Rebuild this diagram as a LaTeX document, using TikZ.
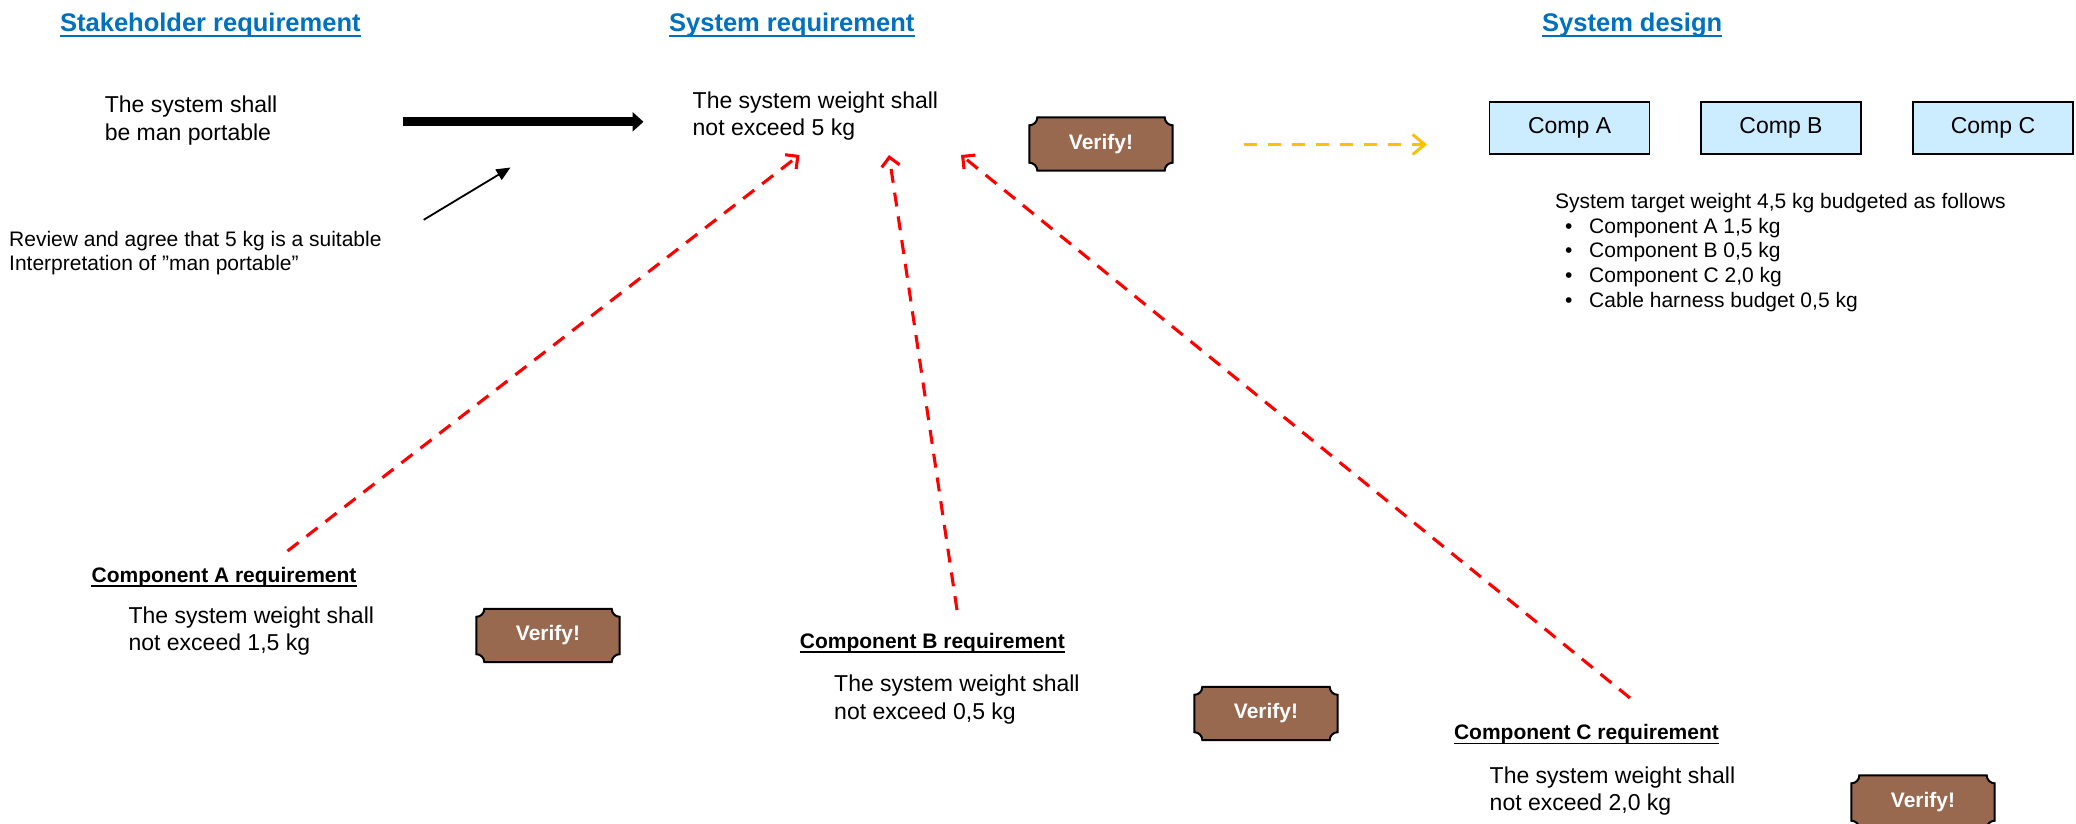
\documentclass[tikz,border=0pt]{standalone}
\usepackage{fontspec}
\setmainfont{Liberation Sans}
\usetikzlibrary{arrows.meta,backgrounds}

\definecolor{hdrblue}{HTML}{0070C0}
\definecolor{verifybrown}{HTML}{98684F}
\definecolor{compblue}{HTML}{CCECFF}
\definecolor{budgetgold}{HTML}{FFC000}

\tikzset{
  hdr/.style={inner sep=0pt, anchor=base west, text=hdrblue,
    font=\bfseries\fontsize{25.5}{30}\selectfont},
  hdrline/.style={draw=hdrblue, line width=2pt},
  subhdr/.style={inner sep=0pt, anchor=base west,
    font=\bfseries\fontsize{21}{25}\selectfont},
  subline/.style={draw=black, line width=1.8pt},
  body/.style={inner sep=0pt, anchor=north west, align=left,
    font=\fontsize{23}{27.5}\selectfont},
  note/.style={inner sep=0pt, anchor=north west, align=left,
    font=\fontsize{21}{24.5}\selectfont},
  compbox/.style={draw=black, line width=1.4pt, fill=compblue,
    minimum width=160pt, minimum height=52pt, inner sep=0pt,
    font=\fontsize{23}{27}\selectfont},
  verifybox/.style={minimum width=143pt, minimum height=53pt, inner sep=0pt,
    text=white, font=\bfseries\fontsize{21}{25}\selectfont},
  plaqueline/.style={draw=black, line width=2pt, fill=verifybrown},
  refine/.style={draw=black, line width=8.7pt,
    -{Triangle[length=11pt,width=19pt]}},
  agree/.style={draw=black, line width=1.8pt,
    -{Triangle[length=14pt,width=12pt]}},
  trace/.style={draw=red, line width=3.1pt, dash pattern=on 14pt off 10pt,
    -{Straight Barb[length=9pt,width=18pt]}},
  allocate/.style={draw=budgetgold, line width=3pt, dash pattern=on 13pt off 11pt,
    -{Straight Barb[length=12pt,width=20pt]}},
}

% plaque outline with concave corners, drawn behind a named node
\newcommand\plaque[1]{%
  \begin{scope}[on background layer]
    \path[plaqueline]
      ([xshift=8pt]#1.north west) -- ([xshift=-8pt]#1.north east)
      arc[start angle=180,end angle=270,radius=8pt]
      -- ([yshift=8pt]#1.south east)
      arc[start angle=90,end angle=180,radius=8pt]
      -- ([xshift=8pt]#1.south west)
      arc[start angle=0,end angle=90,radius=8pt]
      -- ([yshift=-8pt]#1.north west)
      arc[start angle=270,end angle=360,radius=8pt] -- cycle;
  \end{scope}}

\begin{document}
\begin{tikzpicture}[x=1pt,y=1pt]
\useasboundingbox (0,0) rectangle (2076,-823);
\begin{scope}[on background layer]
  \fill[white] (0,0) rectangle (2076,-823);
\end{scope}

% column headings
\node[hdr] (hsh) at (60,-31) {Stakeholder requirement};
\node[hdr] (hsr) at (669,-31) {System requirement};
\node[hdr] (hsd) at (1542,-31) {System design};
\foreach \h in {hsh,hsr,hsd}{
  \draw[hdrline] ([yshift=-4.5pt]\h.base west) -- ([yshift=-4.5pt]\h.base east);}

% stakeholder and system requirement
\node[body] (stk) at (104.6,-96) {The system shall\\be man portable};
\node[body] (sysreq) at (692.5,-91.5) {The system weight shall\\not exceed 5 kg};

\coordinate (refS) at (402.5,-121.8);
\coordinate (refE) at (643.5,-121.8);
\draw[refine] (refS) -- (refE);

\node[note] (review) at (9,-231)
  {Review and agree that 5 kg is a suitable\\Interpretation of ''man portable''};
\coordinate (agS) at (423.7,-219.8);
\coordinate (agE) at (510.5,-167.5);
\draw[agree] (agS) -- (agE);

% verification badges
\node[verifybox] (v0) at (1101,-144) {Verify!};
\node[verifybox] (vA) at (548,-635.5) {Verify!};
\node[verifybox] (vB) at (1266,-713.5) {Verify!};
\node[verifybox] (vC) at (1923,-802) {Verify!};
\foreach \v in {v0,vA,vB,vC}{\plaque{\v}}

% system design
\node[compbox] (cA) at (1569.6,-127.8) {Comp A};
\node[compbox] (cB) at (1781,-127.8) {Comp B};
\node[compbox] (cC) at (1993,-127.8) {Comp C};

\coordinate (alS) at (1244,-144.5);
\coordinate (alE) at (1427,-144.5);
\draw[allocate] (alS) -- (alE);

\node[note, font=\fontsize{21}{24.7}\selectfont] (budget) at (1555,-193)
  {System target weight 4,5 kg budgeted as follows\\
   \hspace*{10pt}\makebox[24pt][l]{•}Component A 1,5 kg\\
   \hspace*{10pt}\makebox[24pt][l]{•}Component B 0,5 kg\\
   \hspace*{10pt}\makebox[24pt][l]{•}Component C 2,0 kg\\
   \hspace*{10pt}\makebox[24pt][l]{•}Cable harness budget 0,5 kg};

% component requirements
\node[subhdr] (hA) at (91.4,-582) {Component A requirement};
\node[subhdr] (hB) at (799.7,-648) {Component B requirement};
\node[subhdr] (hC) at (1453.8,-739.5) {Component C requirement};
\foreach \h in {hA,hB,hC}{
  \draw[subline] ([yshift=-4pt]\h.base west) -- ([yshift=-4pt]\h.base east);}

\node[body] (reqA) at (128.4,-606.5) {The system weight shall\\not exceed 1,5 kg};
\node[body] (reqB) at (834,-675) {The system weight shall\\not exceed 0,5 kg};
\node[body] (reqC) at (1489.5,-766.5) {The system weight shall\\not exceed 2,0 kg};

% traces from component requirements up to the system requirement
\coordinate (trAS) at (287.5,-551);
\coordinate (trAE) at (799.5,-155);
\coordinate (trBS) at (957,-610);
\coordinate (trBE) at (889,-155);
\coordinate (trCS) at (1630,-698);
\coordinate (trCE) at (961,-155);
\draw[trace] (trAS) -- (trAE);
\draw[trace] (trBS) -- (trBE);
\draw[trace] (trCS) -- (trCE);
\end{tikzpicture}
\end{document}
